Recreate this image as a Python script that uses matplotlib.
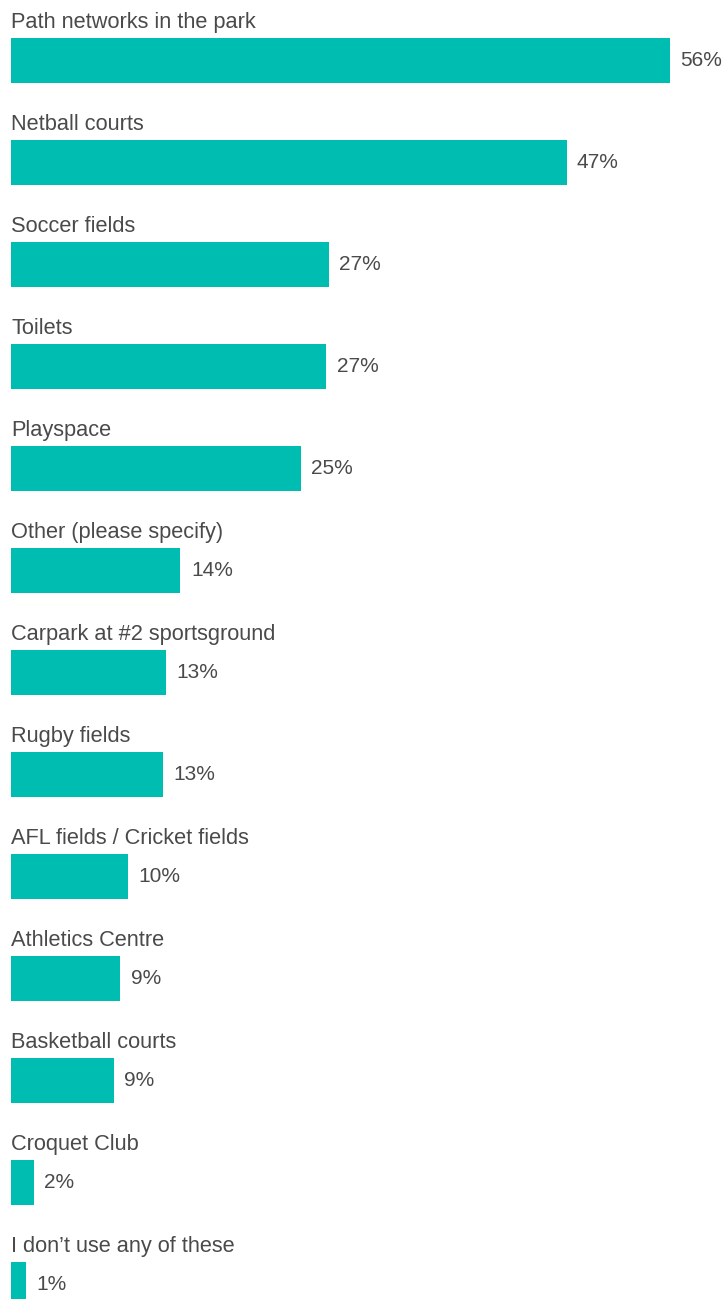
import matplotlib.pyplot as plt

# categories and survey results (share of respondents, %)
categories = [
    "Path networks in the park",
    "Netball courts",
    "Soccer fields",
    "Toilets",
    "Playspace",
    "Other (please specify)",
    "Carpark at #2 sportsground",
    "Rugby fields",
    "AFL fields / Cricket fields",
    "Athletics Centre",
    "Basketball courts",
    "Croquet Club",
    "I don\u2019t use any of these",
]
values = [56.0, 47.2, 27.0, 26.8, 24.6, 14.4, 13.2, 12.9, 9.9, 9.3, 8.75, 1.95, 1.27]
value_labels = ["56%", "47%", "27%", "27%", "25%", "14%", "13%", "13%",
                "10%", "9%", "9%", "2%", "1%"]

bar_color = "#00BDB1"
text_color = "#4a4a4a"
plt.rcParams["font.family"] = ["Liberation Sans", "DejaVu Sans"]

fig = plt.figure(figsize=(7.26, 12.99), dpi=100)
ax = fig.add_axes([0, 0, 1, 1])

rows = list(range(len(categories)))
ax.barh(rows, values, height=0.441, color=bar_color, left=0)

for i, (cat, lab, v) in enumerate(zip(categories, value_labels, values)):
    ax.text(0, i - 0.319, cat, ha="left", va="baseline",
            fontsize=15.7, color=text_color)
    ax.annotate(lab, xy=(v, i), xytext=(7.5, 0), textcoords="offset points",
                ha="left", va="center", fontsize=15, color=text_color)

# map data units so bars start ~11px from the left edge
px_per_pct = 11.77
ax.set_xlim(-11 / px_per_pct, (726 - 11) / px_per_pct)
ax.set_ylim((1299 - 60.5) / 102, -60.5 / 102)
ax.axis("off")

fig.savefig("out.png", dpi=100)
